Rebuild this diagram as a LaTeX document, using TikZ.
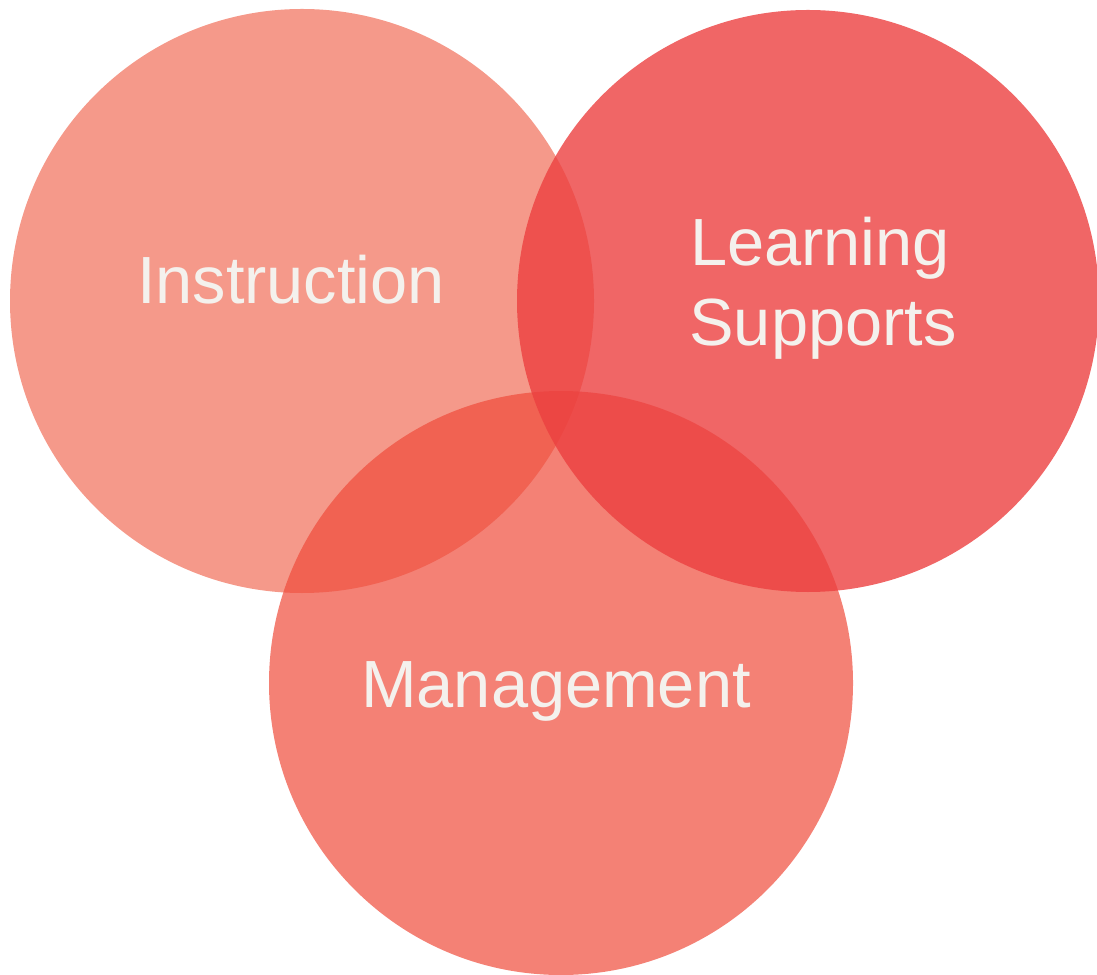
\documentclass[tikz,border=0pt]{standalone}
\usepackage{fontspec}
\setmainfont{Liberation Sans}
\definecolor{instr}{RGB}{243,128,109}
\definecolor{learn}{RGB}{236,64,64}
\definecolor{manag}{RGB}{239,75,59}
\definecolor{labelc}{RGB}{244,241,237}
\tikzset{
	blob/.style={fill opacity=.8},
	lbl/.style={text=labelc,font=\fontsize{38}{45.5}\selectfont,align=center,inner sep=0pt}
}
\begin{document}
\begin{tikzpicture}[x=0.02cm,y=0.02cm]
		\useasboundingbox (0,0) rectangle (1097,974);
		\fill[blob,instr] (302,673) circle (292);
		\fill[blob,manag,fill opacity=.7] (561,291) circle (292);
		\fill[blob,learn] (808,673) circle (291);
		\node[lbl,anchor=base] (instruction) at (291,670) {Instruction};
		\node[lbl,anchor=base] (learning) at (820,708) {Learning};
		\node[lbl,anchor=base] (supports) at (823,628) {Supports};
		\node[lbl,anchor=base] (management) at (556,267) {Management};
	\end{tikzpicture}
\end{document}
